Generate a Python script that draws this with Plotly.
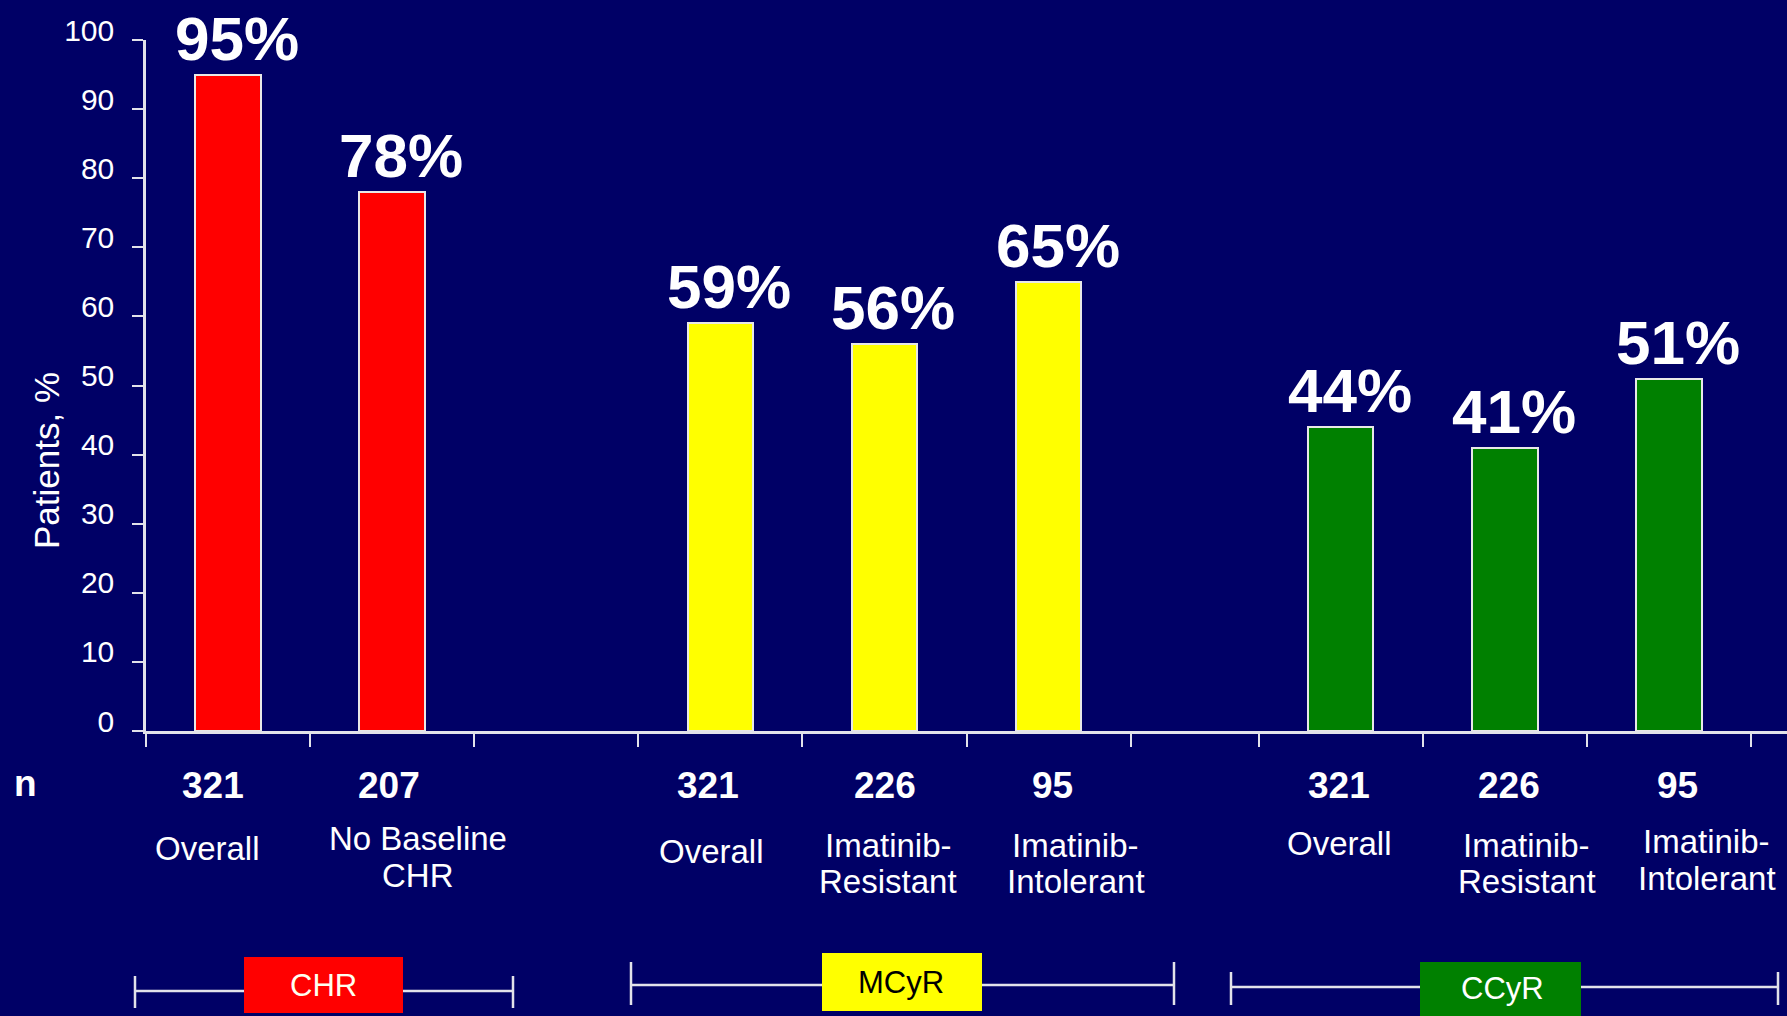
import plotly.graph_objects as go

# ---- data -------------------------------------------------------------
groups = ["CHR", "MCyR", "CCyR"]

chr_labels = ["Overall", "No Baseline<br>CHR"]
chr_n = [321, 207]
chr_pct = [95, 78]

mcyr_labels = ["Overall", "Imatinib-<br>Resistant", "Imatinib-<br>Intolerant"]
mcyr_n = [321, 226, 95]
mcyr_pct = [59, 56, 65]

ccyr_labels = ["Overall", "Imatinib-<br>Resistant", "Imatinib-<br>Intolerant"]
ccyr_n = [321, 226, 95]
ccyr_pct = [44, 41, 51]

y_ticks = [0, 10, 20, 30, 40, 50, 60, 70, 80, 90, 100]

# ---- layout / style ---------------------------------------------------
W, H = 1787, 1016
L, R, T, B = 146, 0, 40, 285
PW, PH = W - L - R, H - T - B

BG = "#000066"
AXIS = "#E2E2EA"
FONT = "Arial, Liberation Sans, sans-serif"
group_colors = ["#FF0000", "#FFFF00", "#008000"]
group_text_colors = ["#FFFFF0", "#000000", "#FFFFFF"]
group_start = [0.0, 3.0, 6.78]          # slot offset of each group on the x axis
X_MAX = 10.0
BAR_W = 0.4

# small nudges (px) of the text under each bar
n_nudge = [-15, -3, -12, 1, 4, -2, 4, 9]
cat_nudge = [-21, 26, -9, 4, 27, -1, 22, 38]
cat_line1_y = [849, 838, 851, 845, 845, 843, 845, 841]
cat_line2_y = [None, 875, None, 881, 881, None, 881, 878]

# bracket geometry under the axis, in page pixels:
# (line x0, line x1, line y, cap y0, cap y1, box x0, box x1, box y0, box y1, text x, text y)
brackets = [
    (135, 513, 991, 976, 1008, 244, 403, 957, 1013, 323, 985),
    (631, 1174, 985, 962, 1005, 822, 982, 953, 1011, 901, 982),
    (1231, 1778, 987, 972, 1005, 1420, 1581, 962, 1030, 1502, 988),
]


def xp(px):
    return (px - L) / PW


def yp(py):
    return (H - B - py) / PH


group_data = [
    (chr_labels, chr_n, chr_pct),
    (mcyr_labels, mcyr_n, mcyr_pct),
    (ccyr_labels, ccyr_n, ccyr_pct),
]

fig = go.Figure()
annotations = []
shapes = []

# slot boundaries for the x ticks
tick_x = []
idx = 0
for g, (labels, ns, pcts) in enumerate(group_data):
    xs = [group_start[g] + i + 0.5 for i in range(len(pcts))]
    for i in range(len(pcts) + 1):
        tick_x.append(group_start[g] + i)
    fig.add_trace(go.Bar(
        x=xs, y=pcts, width=BAR_W, name=groups[g],
        marker=dict(color=group_colors[g], line=dict(color="#E8E8E8", width=2)),
        showlegend=False, hoverinfo="skip",
    ))
    for x, lab, n, p in zip(xs, labels, ns, pcts):
        # value label above the bar
        annotations.append(dict(
            x=x, y=p, xref="x", yref="y", text=f"{p}%", showarrow=False,
            xanchor="center", yanchor="bottom", xshift=9, yshift=0,
            font=dict(family=FONT, size=62, color="white", weight="bold"),
        ))
        # n
        annotations.append(dict(
            x=x, y=yp(785), xref="x", yref="paper", text=str(n), showarrow=False,
            xanchor="center", yanchor="middle", xshift=n_nudge[idx],
            font=dict(family=FONT, size=37, color="white", weight="bold"),
        ))
        # category label, one annotation per line
        lines = lab.split("<br>")
        line_y = [cat_line1_y[idx], cat_line2_y[idx]]
        for line, ly in zip(lines, line_y):
            annotations.append(dict(
                x=x, y=yp(ly), xref="x", yref="paper", text=line, showarrow=False,
                xanchor="center", yanchor="middle", xshift=cat_nudge[idx],
                font=dict(family=FONT, size=33, color="white"),
            ))
        idx += 1

tick_x = sorted(set(round(v, 4) for v in tick_x))

# "n" row header
annotations.append(dict(
    x=xp(25), y=yp(784), xref="paper", yref="paper", text="n", showarrow=False,
    xanchor="center", yanchor="middle",
    font=dict(family=FONT, size=37, color="white", weight="bold"),
))

# y axis title
annotations.append(dict(
    x=xp(46), y=yp(461), xref="paper", yref="paper", text="Patients, %",
    showarrow=False, textangle=-90, xanchor="center", yanchor="middle",
    font=dict(family=FONT, size=35, color="white"),
))

# group brackets with coloured name boxes
for g, b in enumerate(brackets):
    lx0, lx1, ly, cy0, cy1, bx0, bx1, by0, by1, tx, ty = b
    line_style = dict(color=AXIS, width=2.5)
    shapes.append(dict(type="line", xref="paper", yref="paper",
                       x0=xp(lx0), x1=xp(lx1), y0=yp(ly), y1=yp(ly), line=line_style))
    for cx in (lx0, lx1):
        shapes.append(dict(type="line", xref="paper", yref="paper",
                           x0=xp(cx), x1=xp(cx), y0=yp(cy0), y1=yp(cy1), line=line_style))
    shapes.append(dict(type="rect", xref="paper", yref="paper",
                       x0=xp(bx0), x1=xp(bx1), y0=yp(by0), y1=yp(by1),
                       fillcolor=group_colors[g], line=dict(width=0)))
    annotations.append(dict(
        x=xp(tx), y=yp(ty), xref="paper", yref="paper", text=groups[g],
        showarrow=False, xanchor="center", yanchor="middle",
        font=dict(family=FONT, size=31, color=group_text_colors[g]),
    ))

fig.update_layout(
    width=W, height=H,
    margin=dict(l=L, r=R, t=T, b=B, pad=0),
    paper_bgcolor=BG, plot_bgcolor=BG,
    bargap=0,
    annotations=annotations,
    shapes=shapes,
    xaxis=dict(
        range=[0, X_MAX], showgrid=False, zeroline=False,
        showline=True, linecolor=AXIS, linewidth=2.5,
        tickmode="array", tickvals=tick_x, showticklabels=False,
        ticks="outside", ticklen=13, tickwidth=2, tickcolor=AXIS,
    ),
    yaxis=dict(
        range=[0, 100], showgrid=False, zeroline=False,
        showline=True, linecolor=AXIS, linewidth=2.5,
        tickmode="array", tickvals=y_ticks,
        ticks="outside", ticklen=11, tickwidth=2, tickcolor=AXIS,
        tickfont=dict(family=FONT, size=30, color="white"),
        ticklabelshift=-10, ticklabelstandoff=12,
    ),
)

fig.write_html("out.html")
